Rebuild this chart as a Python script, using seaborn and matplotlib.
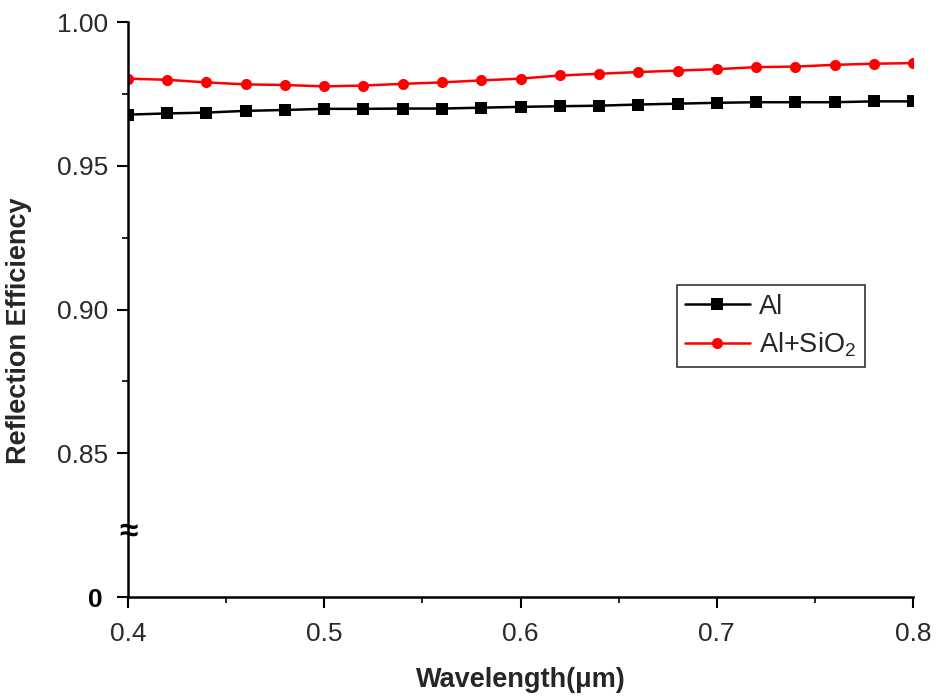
import numpy as np
import pandas as pd
import matplotlib
matplotlib.use("Agg")
import matplotlib.pyplot as plt
import matplotlib.transforms as mtransforms
import seaborn as sns
from matplotlib.ticker import MultipleLocator, FixedLocator

wavelength = [0.40, 0.42, 0.44, 0.46, 0.48, 0.50, 0.52, 0.54, 0.56, 0.58, 0.60,
              0.62, 0.64, 0.66, 0.68, 0.70, 0.72, 0.74, 0.76, 0.78, 0.80]
al = [0.9678, 0.9682, 0.9685, 0.9691, 0.9694, 0.9698, 0.9698, 0.9699, 0.9699, 0.9702, 0.9705,
      0.9707, 0.9709, 0.9713, 0.9716, 0.9719, 0.9721, 0.9721, 0.9721, 0.9724, 0.9724]
al_sio2 = [0.9803, 0.9799, 0.9790, 0.9783, 0.9781, 0.9776, 0.9779, 0.9785, 0.9790, 0.9797, 0.9803,
           0.9814, 0.9820, 0.9826, 0.9831, 0.9836, 0.9843, 0.9845, 0.9851, 0.9855, 0.9857]
series_names = ["Al", "Al+SiO$_2$"]
y_ticks = [0.80, 0.85, 0.90, 0.95, 1.00]
y_ticklabels = ["0", "0.85", "0.90", "0.95", "1.00"]
x_ticks = [0.4, 0.5, 0.6, 0.7, 0.8]
x_ticklabels = ["0.4", "0.5", "0.6", "0.7", "0.8"]
break_value = 0.8225

df = pd.DataFrame({
    "Wavelength": wavelength * 2,
    "Reflection": al + al_sio2,
    "Series": [series_names[0]] * len(wavelength) + [series_names[1]] * len(wavelength),
})

sns.set_style("ticks")
plt.rcParams["font.family"] = ["Liberation Sans", "DejaVu Sans"]
plt.rcParams["mathtext.fontset"] = "custom"
plt.rcParams["mathtext.rm"] = "Liberation Sans"

fig = plt.figure(figsize=(9.37, 6.99), dpi=100)
ax = fig.add_axes([0.1366, 0.1459, 0.9744 - 0.1366, 0.9685 - 0.1459])

sns.lineplot(data=df, x="Wavelength", y="Reflection", hue="Series", style="Series",
             palette=["black", "red"], markers=["s", "o"], dashes=False,
             markersize=8, linewidth=1.8, markeredgewidth=0, ax=ax)

ax.set_xlim(0.4, 0.8)
ax.set_ylim(0.80, 1.00)
ax.set_xticks(x_ticks)
ax.set_xticklabels(x_ticklabels)
ax.set_yticks(y_ticks)
ax.set_yticklabels(y_ticklabels)
ax.xaxis.set_minor_locator(MultipleLocator(0.05))
ax.yaxis.set_minor_locator(FixedLocator([0.875, 0.925, 0.975]))

for s in ["top", "right"]:
    ax.spines[s].set_visible(False)
for s in ["left", "bottom"]:
    ax.spines[s].set_linewidth(1.8)
    ax.spines[s].set_color("black")

ax.tick_params(axis="both", which="major", direction="out", length=8, width=1.5,
               labelsize=19, colors="black", labelcolor="#2a2a2a", pad=6)
ax.tick_params(axis="x", which="major", pad=10)
ax.tick_params(axis="both", which="minor", direction="out", length=4, width=1.2, colors="black")
zero_label = ax.get_yticklabels()[0]
zero_label.set_fontweight("bold")
zero_label.set_color("black")
zero_label.set_transform(zero_label.get_transform() +
                         mtransforms.ScaledTranslation(-6 / 100, 0, fig.dpi_scale_trans))

ax.set_xlabel("Wavelength(μm)", fontsize=19.5, fontweight="bold")
ax.set_ylabel("Reflection Efficiency", fontsize=19.5, fontweight="bold")
ax.xaxis.set_label_coords(0.5, -0.122)
ax.yaxis.set_label_coords(-0.122, 0.464)

ax.text(0.4, break_value, "≈", ha="center", va="center", fontsize=24, fontweight="bold",
        color="black", clip_on=False, zorder=5)

leg = ax.legend(loc="lower left", bbox_to_anchor=(0.699, 0.40), fontsize=19.5,
                frameon=True, fancybox=False, edgecolor="#333333", framealpha=1,
                handlelength=2.4, borderpad=0.3, labelspacing=0.4, handletextpad=0.35,
                borderaxespad=0)
leg.get_frame().set_linewidth(1.2)

fig.savefig("out.png", dpi=100)
